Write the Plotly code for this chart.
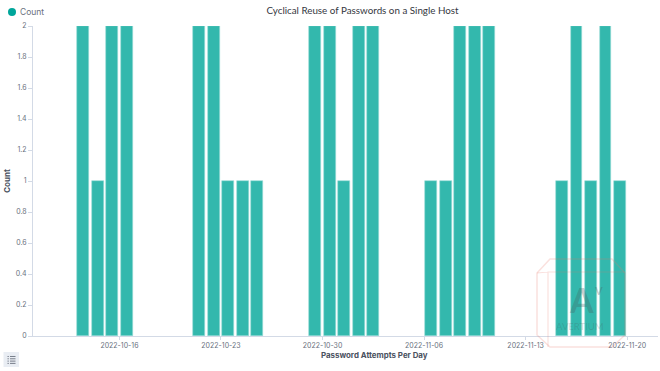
import plotly.graph_objects as go

days = ["2022-10-13", "2022-10-14", "2022-10-15", "2022-10-16",
        "2022-10-21", "2022-10-22", "2022-10-23", "2022-10-24", "2022-10-25",
        "2022-10-29", "2022-10-30", "2022-10-31", "2022-11-01", "2022-11-02",
        "2022-11-06", "2022-11-07", "2022-11-08", "2022-11-09", "2022-11-10",
        "2022-11-15", "2022-11-16", "2022-11-17", "2022-11-18", "2022-11-19"]
counts = [2, 1, 2, 2,
          2, 2, 1, 1, 1,
          2, 2, 1, 2, 2,
          1, 1, 2, 2, 2,
          1, 2, 1, 2, 1]
y_ticks = [0, 0.2, 0.4, 0.6, 0.8, 1, 1.2, 1.4, 1.6, 1.8, 2]
x_ticks = ["2022-10-16", "2022-10-23", "2022-10-30", "2022-11-06", "2022-11-13", "2022-11-20"]

W, H = 660, 371
ML, MR, MT, MB = 33, 2, 26, 35
TEAL = "#33b8ad"
AXIS = "#d3dae6"
TICK = "#69707d"
INK = "#343741"
LABEL = "#4a5160"
PINK = "rgba(232,120,105,0.22)"
MARK = "rgba(70,90,90,0.30)"

def px(x):
    return (x - ML) / (W - ML - MR)

def py(y):
    return 1 - (y - MT) / (H - MT - MB)

def pt(a, b):
    return f"{px(a):.4f},{py(b):.4f}"

def polyline(points, close=False):
    return "M " + " L ".join(pt(a, b) for a, b in points) + (" Z" if close else "")

fig = go.Figure(go.Bar(
    x=days, y=counts, name="Count",
    xperiod=86400000, xperiodalignment="middle",
    width=70000000,
    marker=dict(color=TEAL, line=dict(color="#9adcd6", width=0.6)),
    showlegend=False,
))

icon_lines = " ".join(
    polyline([(10, y), (15.5, y)]) + " " + polyline([(7.5, y), (8.8, y)])
    for y in (356.5, 358.8, 361.1, 363.4)
)

shapes = [
    # legend dot
    dict(type="circle", xref="paper", yref="paper", xsizemode="pixel", ysizemode="pixel",
         xanchor=px(12), yanchor=py(12), x0=-4, x1=4, y0=-4, y1=4,
         fillcolor="#00a69b", line_width=0),
    # list button
    dict(type="rect", xref="paper", yref="paper", x0=px(3.5), x1=px(19), y0=py(367), y1=py(352),
         fillcolor="#e9edf3", line_width=0, layer="below"),
    dict(type="path", xref="paper", yref="paper", path=icon_lines,
         line=dict(color="#5a6270", width=0.8)),
    # watermark
    dict(type="path", xref="paper", yref="paper", layer="above",
         path=polyline([(537, 273), (550, 259), (612, 259), (625, 273), (625, 335), (612, 347), (550, 347), (537, 335)], close=True),
         line=dict(color=PINK, width=1.5)),
    dict(type="path", xref="paper", yref="paper", layer="above",
         path=polyline([(548, 347), (548, 272), (625, 272)]) + " " + polyline([(537, 273), (548, 272)]),
         line=dict(color=PINK, width=1.2)),
]

annotations = [
    dict(text="Count", x=px(19), y=py(12), xref="paper", yref="paper", xanchor="left", yanchor="middle",
         showarrow=False, xshift=-1, font=dict(family="Inter, Open Sans", size=8.5, color=TICK)),
    dict(text="A", x=px(581), y=py(299), xref="paper", yref="paper", xanchor="center", yanchor="middle",
         showarrow=False, font=dict(family="Lato", size=34, color=MARK, weight="bold")),
    dict(text="V", x=px(598), y=py(290), xref="paper", yref="paper", xanchor="center", yanchor="middle",
         showarrow=False, font=dict(family="Lato", size=11, color=MARK, weight="bold")),
    dict(text="AVERTIUM", x=px(580), y=py(326), xref="paper", yref="paper", xanchor="center", yanchor="middle",
         showarrow=False, font=dict(family="Lato", size=9.5, color="rgba(70,90,90,0.24)")),
    dict(text="Password Attempts Per Day", x=px(374), y=py(355), xref="paper", yref="paper",
         xanchor="center", yanchor="middle", showarrow=False,
         font=dict(family="Inter, Open Sans", size=7.9, color=LABEL, weight="bold")),
]

fig.update_layout(
    width=W, height=H,
    autosize=False,
    margin=dict(l=ML, r=MR, t=MT, b=MB),
    paper_bgcolor="white",
    plot_bgcolor="white",
    bargap=0,
    title=dict(text="Cyclical Reuse of Passwords on a Single Host",
               x=362.5 / W, xanchor="center", y=1 - 10.5 / H, yanchor="middle",
               font=dict(family="Lato", size=9.8, color=INK)),
    xaxis=dict(
        type="date",
        range=["2022-10-10 01:00", "2022-11-22 03:00"],
        tickmode="array", tickvals=x_ticks, ticktext=x_ticks,
        ticks="outside", ticklen=3, tickcolor=AXIS, showgrid=False,
        showline=True, linecolor=AXIS, linewidth=1,
        tickfont=dict(family="Inter, Open Sans", size=7, color=TICK),
    ),
    yaxis=dict(
        range=[0, 2],
        tickmode="array", tickvals=y_ticks, ticktext=[f"{v:g}" for v in y_ticks],
        ticks="outside", ticklen=4, tickcolor=AXIS, showgrid=False, zeroline=False,
        showline=True, linecolor=AXIS, linewidth=1,
        tickfont=dict(family="Inter, Open Sans", size=7, color=TICK),
        title=dict(text="Count", standoff=4,
                   font=dict(family="Inter, Open Sans", size=8, color=LABEL, weight="bold")),
    ),
    shapes=shapes,
    annotations=annotations,
)

fig.write_html("out.html", config=dict(displayModeBar=False),
               post_script="document.body.style.margin='0';")
